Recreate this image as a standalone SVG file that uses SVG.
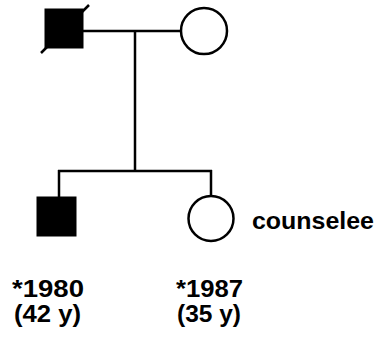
<svg xmlns="http://www.w3.org/2000/svg" width="375" height="338" viewBox="0 0 375 338">
<style>
.ln{stroke:#000;stroke-width:2.5;fill:none}
.aff{fill:#000;stroke:#000;stroke-width:1}
.unaff{fill:#fff;stroke:#000;stroke-width:2.5}
.t{font-family:"Liberation Sans",Arial,sans-serif;font-weight:bold;font-size:24px;fill:#000}
</style>
<rect width="375" height="338" fill="#fff"/>
<g id="connectors">
<line class="ln" x1="83" y1="31" x2="181" y2="31"/>
<line class="ln" x1="135" y1="31" x2="135" y2="171"/>
<line class="ln" x1="58" y1="171" x2="212" y2="171"/>
<line class="ln" x1="59" y1="170" x2="59" y2="197"/>
<line class="ln" x1="211" y1="170" x2="211" y2="196"/>
</g>
<g id="father">
<rect class="aff" x="45" y="9" width="38" height="39"/>
<line class="ln" x1="41" y1="53" x2="89" y2="5"/>
</g>
<g id="mother">
<circle class="unaff" cx="204" cy="31" r="23"/>
</g>
<g id="son">
<rect class="aff" x="37" y="197" width="39" height="39"/>
<text class="t" x="12" y="297" textLength="72" lengthAdjust="spacingAndGlyphs">*1980</text>
<text class="t" x="14" y="322" textLength="67" lengthAdjust="spacingAndGlyphs">(42 y)</text>
</g>
<g id="counselee">
<circle class="unaff" cx="211" cy="218.5" r="22.5"/>
<text class="t" x="252" y="229" textLength="122" lengthAdjust="spacingAndGlyphs">counselee</text>
<text class="t" x="176" y="297" textLength="67" lengthAdjust="spacingAndGlyphs">*1987</text>
<text class="t" x="177" y="322" textLength="64" lengthAdjust="spacingAndGlyphs">(35 y)</text>
</g>
</svg>
